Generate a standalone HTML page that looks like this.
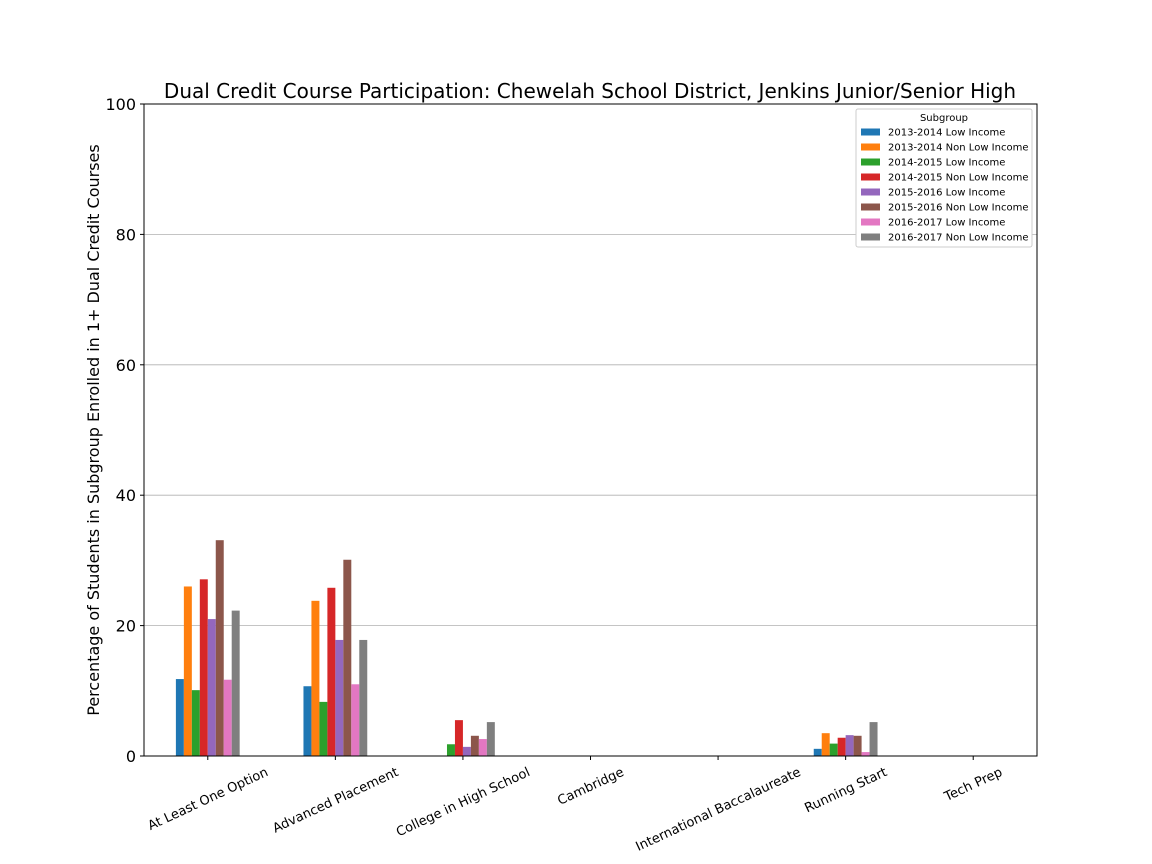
<!DOCTYPE html>
<html><head><meta charset="utf-8"><style>
html,body{margin:0;padding:0;background:#fff;}
svg{display:block;font-family:"DejaVu Sans","Liberation Sans",sans-serif;}
</style></head><body>
<svg id="chart" width="1152" height="864">
<text x="590" y="98" font-size="20" text-anchor="middle">Dual Credit Course Participation: Chewelah School District, Jenkins Junior/Senior High</text>
<g id="grid"></g>
<g id="bars"></g>
<rect x="144" y="104" width="893" height="652" fill="none" stroke="#000" stroke-width="1"/>
<g id="axes"></g>
<text transform="translate(99,430) rotate(-90)" font-size="16" text-anchor="middle">Percentage of Students in Subgroup Enrolled in 1+ Dual Credit Courses</text>
<g id="legend"></g>
</svg>
<script>
const categories=["At Least One Option","Advanced Placement","College in High School","Cambridge","International Baccalaureate","Running Start","Tech Prep"];
const seriesNames=["2013-2014 Low Income","2013-2014 Non Low Income","2014-2015 Low Income","2014-2015 Non Low Income","2015-2016 Low Income","2015-2016 Non Low Income","2016-2017 Low Income","2016-2017 Non Low Income"];
const s0=[11.8,10.7,0,0,0,1.1,0];
const s1=[26.0,23.8,0,0,0,3.5,0];
const s2=[10.1,8.3,1.8,0,0,1.9,0];
const s3=[27.1,25.8,5.5,0,0,2.8,0];
const s4=[21.0,17.8,1.4,0,0,3.2,0];
const s5=[33.1,30.1,3.1,0,0,3.1,0];
const s6=[11.7,11.0,2.6,0,0,0.6,0];
const s7=[22.3,17.8,5.2,0,0,5.2,0];
const series=[s0,s1,s2,s3,s4,s5,s6,s7];
const yTicks=[0,20,40,60,80,100];
const colors=["#1f77b4","#ff7f0e","#2ca02c","#d62728","#9467bd","#8c564b","#e377c2","#7f7f7f"];
const NS="http://www.w3.org/2000/svg";
const X0=144,X1=1037,Y0=756,Y1=104;
const catW=(X1-X0)/categories.length;
const bw=catW*0.5/series.length;
function y(v){return Y0-(v/100)*(Y0-Y1);}
function xc(i){return X0+catW*(i+0.5);}
function mk(t,a,p){const e=document.createElementNS(NS,t);for(const k in a)e.setAttribute(k,a[k]);p.appendChild(e);return e;}
const grid=document.getElementById('grid'),axes=document.getElementById('axes'),bars=document.getElementById('bars'),leg=document.getElementById('legend');
yTicks.forEach(v=>{
 if(v>0&&v<100){const g=mk('line',{x1:X0,x2:X1,y1:y(v),y2:y(v),stroke:'#b0b0b0','stroke-width':0.8},grid);
 
 }
 mk('line',{x1:X0-4,x2:X0,y1:y(v),y2:y(v),stroke:'#000'},axes);
 const t=mk('text',{x:X0-8,y:y(v)+6,'font-size':16,'text-anchor':'end'},axes);t.textContent=v;
 
 
});
const ang=25*Math.PI/180;
categories.forEach((c,i)=>{
 const cx=xc(i);
 mk('line',{x1:cx,x2:cx,y1:Y0,y2:Y0+4,stroke:'#000'},axes);
 const t=mk('text',{x:cx,y:Y0,'font-size':13,'text-anchor':'middle'},axes);
 t.textContent=c;
 
 
 const L=t.getComputedTextLength();
 const h=13;
 const cy=Y0+9+(L*Math.sin(ang)+h*Math.cos(ang))/2;
 t.setAttribute('y',cy+4.5);
 t.setAttribute('transform',`rotate(-25 ${cx} ${cy})`);
 series.forEach((s,j)=>{
  const v=s[i];
  const r=mk('rect',{x:cx-catW*0.25+j*bw,y:y(v),width:bw,height:Y0-y(v),fill:colors[j]},bars);
  
  
 });
});
const lb=mk('rect',{x:856,y:109,width:176,height:138,fill:'#fff',stroke:'#ccc',rx:2},leg);


const lt=mk('text',{x:944,y:121,'font-size':10,'text-anchor':'middle'},leg);lt.textContent='Subgroup';


seriesNames.forEach((n,j)=>{
 const yy=132+j*15;
 mk('rect',{x:861,y:yy-3.5,width:19,height:7,fill:colors[j]},leg);
 const t=mk('text',{x:888,y:yy+3.5,'font-size':10},leg);t.textContent=n;
 
 
});
</script>
</body></html>
